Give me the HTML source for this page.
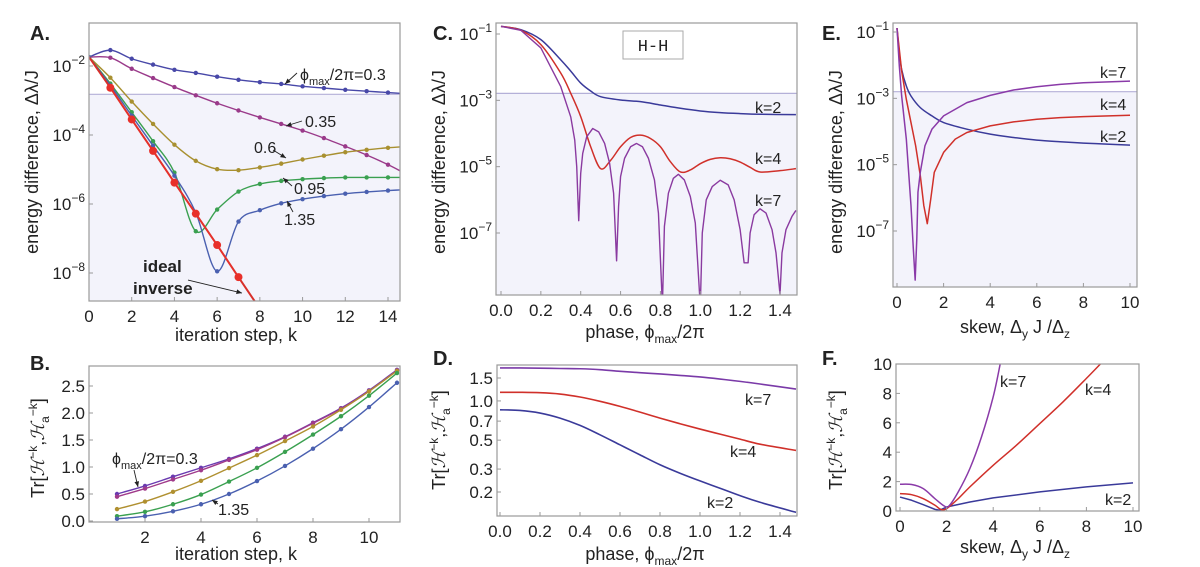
<!DOCTYPE html>
<html><head><meta charset="utf-8"><style>
html,body{margin:0;padding:0;background:#fff}
svg{display:block;font-family:"Liberation Sans",sans-serif}
</style></head><body>
<svg id="fig" width="1200" height="567" viewBox="0 0 1200 567" xmlns="http://www.w3.org/2000/svg"></svg>
<script>
// ---------- Panel A data (log10 energy difference vs k) ----------
const aK = [0,1,2,3,4,5,6,7,8,9,10,11,12,13,14,15];
const aPhi03  = [-1.74,-1.54,-1.79,-1.96,-2.11,-2.20,-2.31,-2.40,-2.47,-2.52,-2.59,-2.64,-2.69,-2.73,-2.77,-2.81];
const aPhi035 = [-1.74,-1.76,-2.08,-2.35,-2.61,-2.85,-3.08,-3.29,-3.49,-3.68,-3.87,-4.09,-4.33,-4.58,-4.86,-5.18];
const aPhi06  = [-1.74,-2.34,-3.03,-3.68,-4.28,-4.75,-4.99,-5.02,-4.94,-4.83,-4.71,-4.60,-4.50,-4.43,-4.37,-4.33];
const aPhi095 = [-1.74,-2.51,-3.34,-4.18,-5.09,-6.79,-6.16,-5.64,-5.42,-5.33,-5.28,-5.25,-5.23,-5.23,-5.23,-5.23];
const aPhi135 = [-1.74,-2.56,-3.44,-4.31,-5.18,-6.25,-7.95,-6.51,-6.18,-5.98,-5.86,-5.77,-5.70,-5.65,-5.61,-5.58];
const aIdealK = [0,1,2,3,4,5,6,7,8,9];
const aIdeal  = [-1.74,-2.63,-3.55,-4.46,-5.38,-6.28,-7.19,-8.12,-9.04,-9.96];
const aXTicks = [0,2,4,6,8,10,12,14];
const aYTicks = [-2,-4,-6,-8];
const threshold = -2.82;
// ---------- Panel B data ----------
const bK = [1,2,3,4,5,6,7,8,9,10,11];
const bPhi03  = [0.50,0.65,0.82,0.985,1.15,1.34,1.56,1.82,2.09,2.42,2.80];
const bPhi035 = [0.45,0.60,0.77,0.94,1.13,1.32,1.55,1.81,2.08,2.41,2.79];
const bPhi06  = [0.22,0.36,0.54,0.745,0.98,1.22,1.48,1.75,2.06,2.40,2.78];
const bPhi095 = [0.09,0.17,0.31,0.49,0.73,0.985,1.28,1.60,1.94,2.32,2.74];
const bPhi135 = [0.04,0.09,0.18,0.31,0.50,0.74,1.02,1.34,1.70,2.11,2.56];
const bXTicks = [2,4,6,8,10];
const bYTicks = [0,0.5,1,1.5,2,2.5];
// ---------- Panel C data (log10) ----------
const cX2 = [0,0.1,0.2,0.3,0.35,0.4,0.45,0.5,0.6,0.7,0.8,0.9,1.0,1.1,1.2,1.3,1.48];
const cK2 = [-0.77,-0.87,-1.17,-1.78,-2.12,-2.48,-2.72,-2.89,-2.99,-3.04,-3.14,-3.24,-3.32,-3.37,-3.40,-3.42,-3.43];
const cX4 = [0,0.1,0.2,0.3,0.35,0.4,0.45,0.5,0.55,0.6,0.65,0.7,0.75,0.8,0.85,0.9,0.95,1.0,1.05,1.1,1.15,1.2,1.25,1.3,1.4,1.48];
const cK4 = [-0.77,-0.89,-1.32,-2.18,-2.79,-3.49,-4.40,-5.06,-4.81,-4.40,-4.12,-4.05,-4.15,-4.40,-4.85,-5.16,-5.10,-4.91,-4.78,-4.73,-4.76,-4.86,-5.02,-5.16,-5.12,-5.06];
const cX7 = [0,0.1,0.2,0.3,0.35,0.37,0.38,0.39,0.40,0.41,0.43,0.46,0.49,0.52,0.545,0.565,0.58,0.59,0.60,0.62,0.65,0.68,0.71,0.74,0.77,0.79,0.81,0.82,0.84,0.865,0.89,0.92,0.95,0.975,1.0,1.01,1.03,1.06,1.1,1.14,1.17,1.2,1.22,1.24,1.25,1.27,1.3,1.33,1.36,1.38,1.40,1.41,1.43,1.46,1.48];
const cK7 = [-0.77,-0.89,-1.42,-2.59,-3.5,-4.2,-5.0,-6.63,-5.2,-4.6,-4.1,-3.85,-3.95,-4.3,-4.9,-5.8,-7.84,-6.2,-5.3,-4.75,-4.4,-4.30,-4.4,-4.75,-5.4,-6.4,-9.2,-6.8,-5.8,-5.35,-5.23,-5.4,-5.9,-6.7,-9.2,-7.0,-6.0,-5.6,-5.41,-5.55,-6.0,-6.9,-7.9,-7.9,-7.0,-6.45,-6.27,-6.4,-6.9,-7.6,-8.85,-7.6,-6.9,-6.5,-6.32];
const cXTicks = [0,0.2,0.4,0.6,0.8,1.0,1.2,1.4];
const cYTicks = [-1,-3,-5,-7];
// ---------- Panel D data (log10) ----------
const dX = [0,0.1,0.2,0.3,0.4,0.5,0.6,0.7,0.8,0.9,1.0,1.1,1.2,1.3,1.48];
const dK7 = [0.253,0.253,0.251,0.249,0.247,0.240,0.227,0.217,0.207,0.196,0.184,0.168,0.150,0.130,0.091];
const dK4 = [0.066,0.066,0.063,0.053,0.030,-0.003,-0.042,-0.086,-0.132,-0.175,-0.216,-0.255,-0.293,-0.332,-0.380];
const dK2 = [-0.068,-0.073,-0.093,-0.132,-0.188,-0.260,-0.337,-0.414,-0.490,-0.555,-0.614,-0.670,-0.727,-0.778,-0.855];
const dXTicks = [0,0.2,0.4,0.6,0.8,1.0,1.2,1.4];
const dYTicks = [0.2,0.3,0.5,0.7,1.0,1.5];
const dYLabels = ["0.2","0.3","0.5","0.7","1.0","1.5"];
// ---------- Panel E data (log10) ----------
const eX2 = [0,0.1,0.2,0.4,0.6,1.0,1.5,2,3,4,5,6,7,8,9,10];
const eK2 = [-0.88,-1.63,-2.13,-2.63,-2.93,-3.28,-3.53,-3.73,-3.93,-4.08,-4.18,-4.26,-4.31,-4.35,-4.38,-4.41];
const eX4 = [0,0.1,0.2,0.4,0.6,0.8,1.0,1.15,1.3,1.45,1.6,2.0,2.5,3,4,5,6,7,8,10];
const eK4 = [-0.88,-1.53,-2.18,-3.03,-3.73,-4.43,-5.33,-6.23,-6.78,-6.03,-5.23,-4.63,-4.23,-4.03,-3.83,-3.71,-3.63,-3.58,-3.55,-3.51];
const eX7 = [0,0.1,0.2,0.4,0.6,0.7,0.78,0.85,0.9,1.0,1.2,1.5,2,3,4,5,6,7,8,10];
const eK7 = [-0.88,-2.03,-2.93,-4.23,-6.23,-7.53,-8.48,-7.23,-5.83,-5.23,-4.43,-3.93,-3.53,-3.13,-2.91,-2.75,-2.65,-2.58,-2.53,-2.48];
const eXTicks = [0,2,4,6,8,10];
const eYTicks = [-1,-3,-5,-7];
// ---------- Panel F data ----------
const fX2 = [0,0.5,1.0,1.5,1.7,2.0,3,4,6,8,10];
const fK2 = [0.95,0.73,0.43,0.11,0.05,0.27,0.61,0.89,1.30,1.64,1.91];
const fX4 = [0,0.5,1.0,1.5,1.75,2.0,2.5,3,4,5,6,7,8,8.6];
const fK4 = [1.18,1.11,0.84,0.39,0.11,0.16,0.84,1.64,3.11,4.48,5.95,7.43,9.02,10];
const fX7 = [0,0.5,1.0,1.5,1.9,2.1,2.5,3,3.5,4,4.3];
const fK7 = [1.82,1.80,1.52,0.84,0.34,0.34,1.30,2.89,5.05,7.77,10];
const fXTicks = [0,2,4,6,8,10];
const fYTicks = [0,2,4,6,8,10];

const NS="http://www.w3.org/2000/svg";
const svg=document.getElementById('fig');
function mk(tag,attrs,parent){const e=document.createElementNS(NS,tag);for(const k in attrs)e.setAttribute(k,attrs[k]);(parent||svg).appendChild(e);return e;}
function lin(d0,d1,r0,r1){return v=>r0+(v-d0)/(d1-d0)*(r1-r0);}
let clipN=0;
function panel(name,x0,y0,x1,y1){
  const g=mk('g',{});
  
  
  const id='clip'+(clipN++);
  const cp=mk('clipPath',{id:id},g);mk('rect',{x:x0,y:y0,width:x1-x0,height:y1-y0},cp);
  return {g:g,clip:id,x0:x0,y0:y0,x1:x1,y1:y1};
}
function frame(p){
  const r=mk('rect',{x:p.x0,y:p.y0,width:p.x1-p.x0,height:p.y1-p.y0,fill:'none',stroke:'#9a9a9a','stroke-width':1.2},p.g);
  
  
}
function shade(p,yv){
  const r=mk('rect',{x:p.x0,y:yv,width:p.x1-p.x0,height:p.y1-yv,fill:'#f3f3fb'},p.g);
  
  
  const l=mk('line',{x1:p.x0,x2:p.x1,y1:yv,y2:yv,stroke:'#b4b0d8','stroke-width':1.2},p.g);
  
  
}
function catmull(pts){
  let d='M'+pts[0][0]+','+pts[0][1];
  for(let i=0;i<pts.length-1;i++){
    const p0=pts[Math.max(0,i-1)],p1=pts[i],p2=pts[i+1],p3=pts[Math.min(pts.length-1,i+2)];
    const c1=[p1[0]+(p2[0]-p0[0])/6,p1[1]+(p2[1]-p0[1])/6];
    const c2=[p2[0]-(p3[0]-p1[0])/6,p2[1]-(p3[1]-p1[1])/6];
    d+=' C'+c1[0].toFixed(2)+','+c1[1].toFixed(2)+' '+c2[0].toFixed(2)+','+c2[1].toFixed(2)+' '+p2[0].toFixed(2)+','+p2[1].toFixed(2);
  }
  return d;
}
function series(p,name,xs,ys,sx,sy,color,opt){
  opt=opt||{};
  const pts=xs.map((x,i)=>[sx(x),sy(ys[i])]);
  const d=opt.smooth?catmull(pts):'M'+pts.map(q=>q[0].toFixed(2)+','+q[1].toFixed(2)).join(' L');
  const g=mk('g',{'clip-path':'url(#'+p.clip+')'},p.g);
  
  
  mk('path',{d:d,fill:'none',stroke:color,'stroke-width':opt.w||1.4,'stroke-linejoin':'round'},g);
  if(opt.dots){pts.forEach(q=>{const c=mk('circle',{cx:q[0],cy:q[1],r:opt.dots,fill:color},g);});}
}
function txt(x,y,s,attrs,parent){
  const t=mk('text',Object.assign({x:x,y:y,'font-size':16,fill:'#222'},attrs||{}),parent);
  t.innerHTML=s;return t;
}
function xticks(p,ticks,sx,labels,fs){
  ticks.forEach((v,i)=>{
    mk('line',{x1:sx(v),x2:sx(v),y1:p.y1,y2:p.y1-4,stroke:'#9a9a9a'},p.g);
    const t=txt(sx(v),p.y1+21,labels?labels[i]:String(v),{'text-anchor':'middle','font-size':fs||17},p.g);
    
    
  });
}
function yticks(p,ticks,sy,labels,fs,logsup){
  ticks.forEach((v,i)=>{
    mk('line',{x1:p.x0,x2:p.x0+4,y1:sy(v),y2:sy(v),stroke:'#9a9a9a'},p.g);
    const s=logsup?'10<tspan dy="-8" font-size="12">−'+Math.abs(v)+'</tspan>':(labels?labels[i]:String(v));
    const t=txt(p.x0-4,sy(v)+6,s,{'text-anchor':'end','font-size':fs||17},p.g);
    
    
  });
}
function letter(x,y,s){const t=txt(x,y,s,{'font-size':20,'font-weight':'bold'});}
function ytitle(x,y,s,name){const t=txt(0,0,s,{'text-anchor':'middle','font-size':18,transform:'translate('+x+','+y+') rotate(-90)'});}
function xtitle(x,y,s,name){const t=txt(x,y,s,{'text-anchor':'middle','font-size':18});}
function label(x,y,s,name,attrs){const t=txt(x,y,s,Object.assign({'font-size':16},attrs||{}));return t;}
function arrow(x1,y1,x2,y2){const l=mk('line',{x1:x1,y1:y1,x2:x2,y2:y2,stroke:'#222','stroke-width':0.9});
  const a=Math.atan2(y2-y1,x2-x1),L=6;mk('path',{d:'M'+x2+','+y2+' L'+(x2-L*Math.cos(a-0.4))+','+(y2-L*Math.sin(a-0.4))+' L'+(x2-L*Math.cos(a+0.4))+','+(y2-L*Math.sin(a+0.4))+'Z',fill:'#222'});}
const TRLABEL='Tr[<tspan font-style="italic">ℋ</tspan><tspan dy="-7" font-size="12">−k</tspan><tspan dy="7">,</tspan><tspan font-style="italic">ℋ</tspan><tspan dy="5" font-size="12">a</tspan><tspan dy="-12" font-size="12">−k</tspan><tspan dy="7">]</tspan>';

// ===== Panel A =====
(function(){
  const p=panel('panel-a-chart',89,23,400,301);
  const sx=lin(0,14,89,388), sy=lin(-2,-8,66,273);
  shade(p,sy(threshold));
  series(p,'series-phi-0.3',aK,aPhi03,sx,sy,'#4848a8',{smooth:1,dots:2.2});
  series(p,'series-phi-0.35',aK,aPhi035,sx,sy,'#9a3a8a',{smooth:1,dots:2.2});
  series(p,'series-phi-0.6',aK,aPhi06,sx,sy,'#a89030',{smooth:1,dots:2.2});
  series(p,'series-phi-0.95',aK,aPhi095,sx,sy,'#3aa050',{smooth:1,dots:2.2});
  series(p,'series-phi-1.35',aK,aPhi135,sx,sy,'#4a60b0',{smooth:1,dots:2.2});
  series(p,'series-ideal-inverse',aIdealK,aIdeal,sx,sy,'#d8302a',{w:2,dots:0});
  series(p,'series-ideal-points',aIdealK.slice(1,8),aIdeal.slice(1,8),sx,sy,'#e8302a',{w:0,dots:4});
  frame(p);
  xticks(p,aXTicks,sx);
  yticks(p,aYTicks,sy,null,17,true);
})();
letter(30,40,'A.');
ytitle(38,162,'energy difference,  Δλ/J','y-axis-title-a');
xtitle(236,341,'iteration step,  k','x-axis-title-a');
label(300,80,'ϕ<tspan dy="5" font-size="11">max</tspan><tspan dy="-5">/2π=0.3</tspan>','label-phi-0.3');arrow(297,73,285,84);
label(305,127,'0.35','label-0.35');arrow(302,121,286,126);
label(254,153,'0.6','label-0.6');arrow(273,150,286,158);
label(294,194,'0.95','label-0.95');arrow(292,186,283,178);
label(284,225,'1.35','label-1.35');arrow(293,212,287,201);
label(143,272,'ideal','label-ideal',{'font-weight':'bold','font-size':17});
label(133,294,'inverse','label-inverse',{'font-weight':'bold','font-size':17});
arrow(188,280,242,293);

// ===== Panel B =====
(function(){
  const p=panel('panel-b-chart',89,366,400,522);
  const sx=lin(2,10,145,369), sy=lin(0,2.5,521,386);
  series(p,'series-phi-0.3',bK,bPhi03,sx,sy,'#6a3ab0',{smooth:1,dots:2.2});
  series(p,'series-phi-0.35',bK,bPhi035,sx,sy,'#a03a8a',{smooth:1,dots:2.2});
  series(p,'series-phi-0.6',bK,bPhi06,sx,sy,'#b09030',{smooth:1,dots:2.2});
  series(p,'series-phi-0.95',bK,bPhi095,sx,sy,'#3aa050',{smooth:1,dots:2.2});
  series(p,'series-phi-1.35',bK,bPhi135,sx,sy,'#4a60b0',{smooth:1,dots:2.2});
  frame(p);
  xticks(p,bXTicks,sx);
  yticks(p,bYTicks,sy,['0.0','0.5','1.0','1.5','2.0','2.5'],17);
})();
letter(30,370,'B.');
ytitle(44,448,TRLABEL,'y-axis-title-b');
xtitle(236,560,'iteration step,  k','x-axis-title-b');
label(112,464,'ϕ<tspan dy="5" font-size="11">max</tspan><tspan dy="-5">/2π=0.3</tspan>','label-phi-0.3-b');arrow(134,470,138,487);
label(218,515,'1.35','label-1.35-b');arrow(218,504,212,500);

// ===== Panel C =====
(function(){
  const p=panel('panel-c-chart',496,23,797,295);
  const sx=lin(0,1.4,501,780), sy=lin(-1,-7,34,233);
  shade(p,sy(-2.79));
  series(p,'series-k2',cX2,cK2,sx,sy,'#3a3a9a',{smooth:1,w:1.5});
  series(p,'series-k4',cX4,cK4,sx,sy,'#d0302a',{smooth:1,w:1.5});
  series(p,'series-k7',cX7,cK7,sx,sy,'#8a3aa0',{w:1.4});
  frame(p);
  xticks(p,cXTicks,sx,['0.0','0.2','0.4','0.6','0.8','1.0','1.2','1.4']);
  yticks(p,cYTicks,sy,null,17,true);
  const b=mk('rect',{x:623,y:31,width:60,height:28,fill:'#fff',stroke:'#aaa'},p.g);
  
})();
label(653,51,'H-H','label-hh',{'font-family':'Liberation Mono, monospace','text-anchor':'middle','font-size':17});
letter(433,40,'C.');
ytitle(445,162,'energy difference,  Δλ/J','y-axis-title-c');
xtitle(645,338,'phase,  ϕ<tspan dy="5" font-size="12">max</tspan><tspan dy="-5">/2π</tspan>','x-axis-title-c');
label(755,113,'k=2','label-k2-c');label(755,164,'k=4','label-k4-c');label(755,206,'k=7','label-k7-c');

// ===== Panel D =====
(function(){
  const p=panel('panel-d-chart',497,365,797,516);
  const sx=lin(0,1.4,500,780), sy=lin(0.176,-0.699,378,492);
  series(p,'series-k7',dX,dK7,sx,sy,'#7a3aa8',{smooth:1,w:1.6});
  series(p,'series-k4',dX,dK4,sx,sy,'#d0302a',{smooth:1,w:1.6});
  series(p,'series-k2',dX,dK2,sx,sy,'#3a3a9a',{smooth:1,w:1.6});
  frame(p);
  xticks(p,dXTicks,sx,['0.0','0.2','0.4','0.6','0.8','1.0','1.2','1.4']);
  yticks(p,dYTicks.map(v=>Math.log10(v)),sy,dYLabels,17);
})();
letter(433,365,'D.');
ytitle(445,440,TRLABEL,'y-axis-title-d');
xtitle(645,560,'phase,  ϕ<tspan dy="5" font-size="12">max</tspan><tspan dy="-5">/2π</tspan>','x-axis-title-d');
label(745,405,'k=7','label-k7-d');label(730,457,'k=4','label-k4-d');label(707,508,'k=2','label-k2-d');

// ===== Panel E =====
(function(){
  const p=panel('panel-e-chart',893,23,1137,287);
  const sx=lin(0,10,897,1130), sy=lin(-1,-7,32,231);
  shade(p,sy(-2.8));
  series(p,'series-k2',eX2,eK2,sx,sy,'#3a3a9a',{smooth:1,w:1.5});
  series(p,'series-k4',eX4,eK4,sx,sy,'#d0302a',{w:1.5});
  series(p,'series-k7',eX7,eK7,sx,sy,'#8a3aa8',{w:1.5});
  frame(p);
  xticks(p,eXTicks,sx);
  yticks(p,eYTicks,sy,null,17,true);
})();
letter(822,40,'E.');
ytitle(842,162,'energy difference,  Δλ/J','y-axis-title-e');
xtitle(1015,333,'skew,  Δ<tspan dy="5" font-size="12">y</tspan><tspan dy="-5"> J /Δ</tspan><tspan dy="5" font-size="12">z</tspan>','x-axis-title-e');
label(1100,78,'k=7','label-k7-e');label(1100,110,'k=4','label-k4-e');label(1100,142,'k=2','label-k2-e');

// ===== Panel F =====
(function(){
  const p=panel('panel-f-chart',896,364,1139,511);
  const sx=lin(0,10,900,1133), sy=lin(0,10,511,364);
  series(p,'series-k2',fX2,fK2,sx,sy,'#3a3a9a',{w:1.5});
  series(p,'series-k4',fX4,fK4,sx,sy,'#d0302a',{smooth:1,w:1.5});
  series(p,'series-k7',fX7,fK7,sx,sy,'#8a3aa8',{smooth:1,w:1.5});
  frame(p);
  xticks(p,fXTicks,sx);
  yticks(p,fYTicks,sy,null,17);
})();
letter(822,365,'F.');
ytitle(842,440,TRLABEL,'y-axis-title-f');
xtitle(1015,553,'skew,  Δ<tspan dy="5" font-size="12">y</tspan><tspan dy="-5"> J /Δ</tspan><tspan dy="5" font-size="12">z</tspan>','x-axis-title-f');
label(1000,387,'k=7','label-k7-f');label(1085,395,'k=4','label-k4-f');label(1105,505,'k=2','label-k2-f');
</script>
</body></html>
